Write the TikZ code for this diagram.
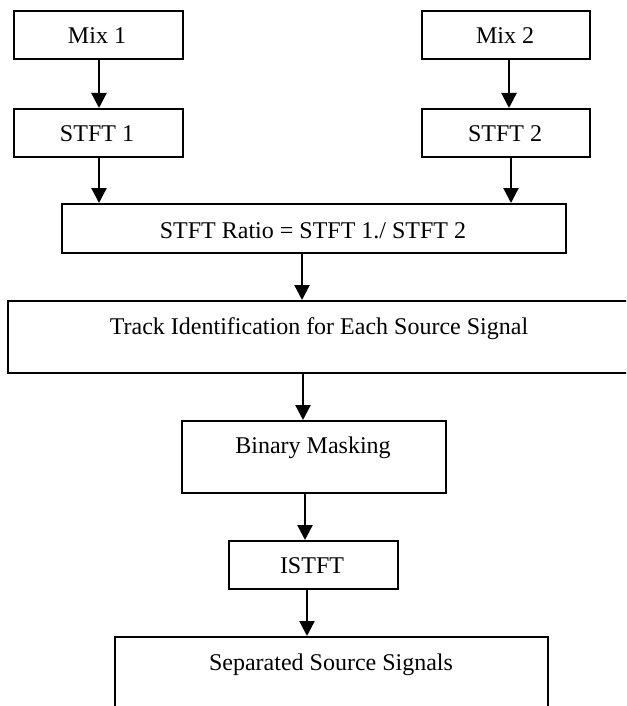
\documentclass[tikz,border=0pt]{standalone}
\usepackage{fontspec}
\setmainfont{Liberation Serif}
\usetikzlibrary{arrows.meta}
\begin{document}
\begin{tikzpicture}[x=1pt,y=-1pt,
  box/.style={draw=black,line width=1.8pt,rectangle,inner sep=0pt,anchor=north west},
  lbl/.style={anchor=base,inner sep=0pt,font=\fontsize{24}{28}\selectfont},
  arr/.style={line width=2.3pt,-{Triangle[length=15pt,width=15pt]}}]
\clip (0,0) rectangle (626,706);
\fill[white] (0,0) rectangle (626,706);
% boxes
\node[box,minimum width=169pt,minimum height=48pt] (mix1) at (13,10) {};
\node[box,minimum width=169pt,minimum height=48pt] (stft1) at (13,108) {};
\node[box,minimum width=168pt,minimum height=48pt] (mix2) at (421,10) {};
\node[box,minimum width=168pt,minimum height=48pt] (stft2) at (421,108) {};
\node[box,minimum width=504pt,minimum height=49pt] (ratio) at (61,203) {};
\node[box,minimum width=630pt,minimum height=72pt] (track) at (7,300) {};
\node[box,minimum width=264pt,minimum height=72pt] (binary) at (181,420) {};
\node[box,minimum width=169pt,minimum height=48pt] (istft) at (228,540) {};
\node[box,minimum width=433pt,minimum height=90pt] (sep) at (114,636) {};
% labels
\node[lbl] (tmix1) at (97,43.3) {Mix 1};
\node[lbl] (tstft1) at (97,141.7) {STFT 1};
\node[lbl] (tmix2) at (505,43.3) {Mix 2};
\node[lbl] (tstft2) at (505,141.7) {STFT 2};
\node[lbl] (tratio) at (313,238) {STFT Ratio = STFT 1./ STFT 2};
\node[lbl] (ttrack) at (319,334) {Track Identification for Each Source Signal};
\node[lbl] (tbinary) at (313,453) {Binary Masking};
\node[lbl] (tistft) at (312,573.3) {ISTFT};
\node[lbl] (tsep) at (331,670) {Separated Source Signals};
% connectors
\coordinate (xa) at (99,0);
\coordinate (xb) at (509,0);
\coordinate (xc) at (511,0);
\coordinate (xd) at (302,0);
\coordinate (xe) at (303,0);
\coordinate (xf) at (305,0);
\coordinate (xg) at (307,0);
\draw[arr] (mix1.south -| xa) -- (stft1.north -| xa);
\draw[arr] (mix2.south -| xb) -- (stft2.north -| xb);
\draw[arr] (stft1.south -| xa) -- (ratio.north -| xa);
\draw[arr] (stft2.south -| xc) -- (ratio.north -| xc);
\draw[arr] (ratio.south -| xd) -- (track.north -| xd);
\draw[arr] (track.south -| xe) -- (binary.north -| xe);
\draw[arr] (binary.south -| xf) -- (istft.north -| xf);
\draw[arr] (istft.south -| xg) -- (sep.north -| xg);
\end{tikzpicture}
\end{document}
